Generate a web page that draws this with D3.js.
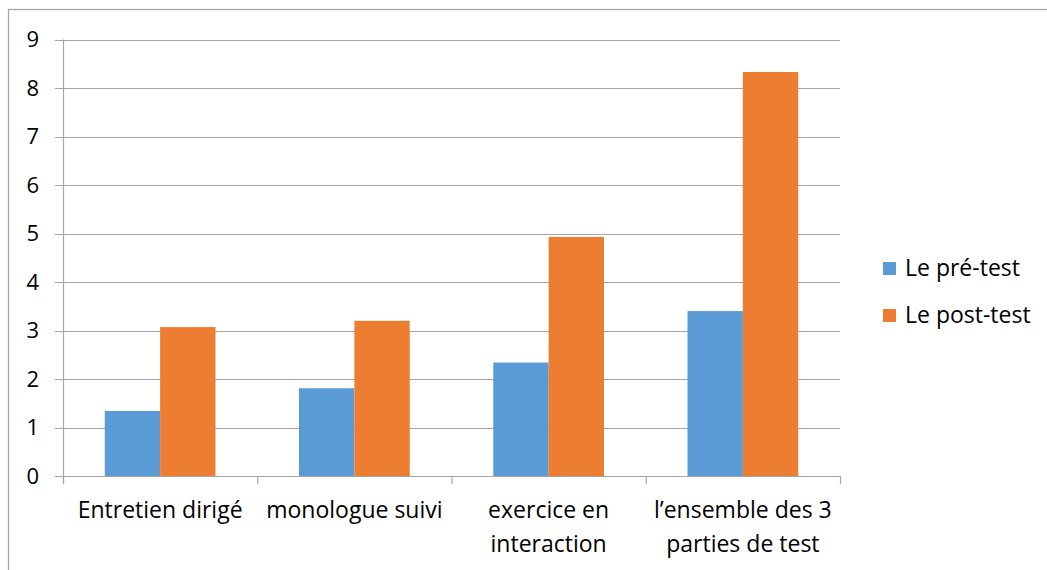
<!DOCTYPE html>
<html><head><meta charset="utf-8">
<script src="https://cdn.jsdelivr.net/npm/d3@7"></script>
<style>body{margin:0;background:#fff}svg{display:block}text{font-family:"Open Sans",Lato,sans-serif;fill:#000}</style>
</head><body>
<svg id="c" width="1047" height="570"></svg>
<script>
const categories = [["Entretien dirigé"],["monologue suivi"],["exercice en","interaction"],["l’ensemble des 3","parties de test"]];
const seriesNames = ["Le pré-test","Le post-test"];
const preTest = [1.34, 1.81, 2.34, 3.40];
const postTest = [3.07, 3.20, 4.93, 8.33];
const yTicks = [0,1,2,3,4,5,6,7,8,9];
const colors = ["#5B9BD5","#ED7D31"];

(function(){
const svg = d3.select("#c");
svg.append("rect").attr("x",8.5).attr("y",9.5).attr("width",1060).attr("height",600)
  .attr("fill","none").attr("stroke","#a6a6a6").attr("stroke-width",1.3);

const pL=63, pR=840, pT=39.5, pB=476;
const y = d3.scaleLinear().domain([0,9]).range([pB,pT]);
const x0 = d3.scaleBand().domain(d3.range(categories.length)).range([pL,pR]).paddingInner(0.43).paddingOuter(0.215);
const x1 = d3.scaleBand().domain([0,1]).range([0,x0.bandwidth()]);

svg.append("g").selectAll("line").data(yTicks).join("line")
  .attr("x1",pL-8).attr("x2",pR).attr("y1",d=>Math.round(y(d))+0.5).attr("y2",d=>Math.round(y(d))+0.5)
  .attr("stroke","#a6a6a6").attr("stroke-width",1.2);
svg.append("line").attr("x1",pL+0.5).attr("x2",pL+0.5).attr("y1",pT).attr("y2",pB+8).attr("stroke","#a6a6a6").attr("stroke-width",1.2);
const step = (pR-pL)/categories.length;
svg.append("g").selectAll("line").data(d3.range(categories.length+1)).join("line")
  .attr("x1",d=>pL+d*step+0.5).attr("x2",d=>pL+d*step+0.5).attr("y1",pB).attr("y2",pB+8)
  .attr("stroke","#a6a6a6").attr("stroke-width",1.2);
svg.append("g").selectAll("text").data(yTicks).join("text")
  .attr("x",39).attr("y",d=>y(d)).attr("dy","0.36em").attr("text-anchor","end")
  .attr("font-size",22).text(d=>d);

const data = [preTest, postTest];
data.forEach((vals,si)=>{
  svg.append("g").selectAll("rect").data(vals).join("rect")
    .attr("x",(d,i)=>x0(i)+x1(si)).attr("width",x1.bandwidth())
    .attr("y",d=>y(d)).attr("height",d=>y(0)-y(d)).attr("fill",colors[si]);
});

const xl = svg.append("g").selectAll("text").data(categories).join("text")
  .attr("x",(d,i)=>pL+(i+0.5)*step).attr("y",518).attr("text-anchor","middle").attr("font-size",23);
xl.each(function(lines){
  const t=d3.select(this);
  lines.forEach((l,k)=>t.append("tspan").attr("x",t.attr("x")).attr("dy",k?34:0).text(l));
});

const lg = svg.append("g").selectAll("g").data(seriesNames).join("g")
  .attr("transform",(d,i)=>`translate(883,${262+i*47})`);
lg.append("rect").attr("width",13).attr("height",13).attr("fill",(d,i)=>colors[i]);
lg.append("text").attr("x",22).attr("y",14).attr("font-size",23).text(d=>d);
})();
</script>
</body></html>
